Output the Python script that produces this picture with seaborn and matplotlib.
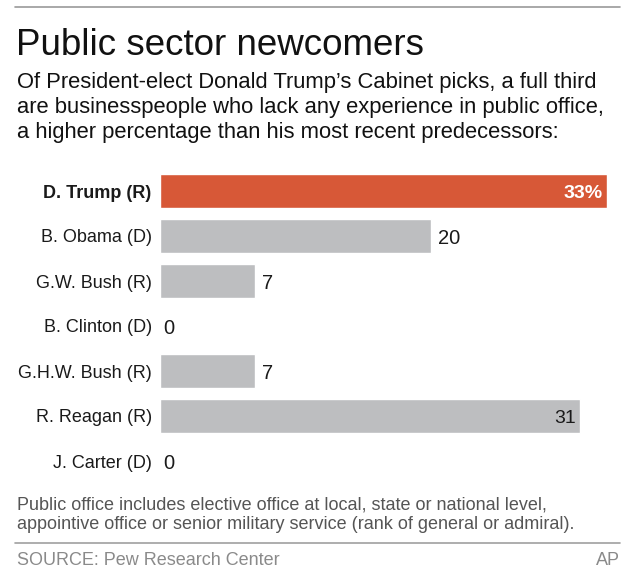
"""
Public sector newcomers - AP chart
"""

import matplotlib
matplotlib.use("Agg")
import matplotlib.pyplot as plt
from matplotlib.lines import Line2D
import seaborn as sns
import pandas as pd

# datos
presidents = ["D. Trump (R)", "B. Obama (D)", "G.W. Bush (R)", "B. Clinton (D)",
              "G.H.W. Bush (R)", "R. Reagan (R)", "J. Carter (D)"]
shares = [33, 20, 7, 0, 7, 31, 0]
value_labels = ["33%", "20", "7", "0", "7", "31", "0"]
inside = [True, False, False, False, False, True, False]

title = "Public sector newcomers"
subtitle = ["Of President-elect Donald Trump\u2019s Cabinet picks, a full third",
            "are businesspeople who lack any experience in public office,",
            "a higher percentage than his most recent predecessors:"]
footnote = ["Public office includes elective office at local, state or national level,",
            "appointive office or senior military service (rank of general or admiral)."]
source = "SOURCE: Pew Research Center"
credit = "AP"

ORANGE = "#D75837"
GRAY = "#BDBEC0"

sns.set_style("white")
plt.rcParams['font.family'] = ['Liberation Sans', 'DejaVu Sans']

df = pd.DataFrame({"president": presidents, "share": shares})
colors = [ORANGE] + [GRAY] * (len(presidents) - 1)

W, H = 640, 583
fig = plt.figure(figsize=(W / 100, H / 100), dpi=100)
ax = fig.add_axes([160 / W, 1 - 483.5 / H, 447 / W, 315 / H])

sns.barplot(data=df, x="share", y="president", hue="president",
            palette=colors, legend=False, width=0.75, saturation=1,
            orient="h", ax=ax)

ax.set_xlim(0, 33)
ax.set_ylim(6.5, -0.5)
ax.set_xlabel("")
ax.set_ylabel("")
ax.set_xticks([])
sns.despine(ax=ax, left=True, bottom=True)
ax.tick_params(axis="y", length=0, pad=6, labelsize=13, labelcolor="#1a1a1a")
for lbl in ax.get_yticklabels():
    if lbl.get_text().startswith("D. Trump"):
        lbl.set_fontweight("bold")

# etiquetas de valor
for i, (v, txt, ins) in enumerate(zip(shares, value_labels, inside)):
    if ins:
        bold = i == 0
        ax.annotate(txt, (v, i), xytext=(-3, -5), textcoords="offset points",
                    ha="right", va="baseline", fontsize=14,
                    fontweight="bold" if bold else "normal",
                    color="white" if bold else "#1a1a1a")
    else:
        ax.annotate(txt, (v, i), xytext=(5 if v > 0 else 2, -5.5),
                    textcoords="offset points", ha="left", va="baseline",
                    fontsize=14.5, color="#1a1a1a")

# textos
fig.add_artist(Line2D([15 / W, 620 / W], [1 - 7 / H] * 2, color="#9a9a9a", lw=1.2))
fig.text(16 / W, 1 - 55 / H, title, fontsize=26.5, va="baseline", color="#111")
for k, line in enumerate(subtitle):
    fig.text(17 / W, 1 - (88 + 25 * k) / H, line, fontsize=15.8,
             va="baseline", color="#111")
for k, line in enumerate(footnote):
    fig.text(17 / W, 1 - (509 + 20 * k) / H, line, fontsize=13,
             va="baseline", color="#555")
fig.add_artist(Line2D([15 / W, 620 / W], [1 - 543 / H] * 2, color="#a0a0a0", lw=1.2))
fig.text(17 / W, 1 - 565 / H, source, fontsize=13, va="baseline", color="#8a8a8a")
fig.text(620 / W, 1 - 565 / H, credit, fontsize=13, va="baseline", ha="right",
         color="#8a8a8a")

fig.savefig("out.png", dpi=100)
